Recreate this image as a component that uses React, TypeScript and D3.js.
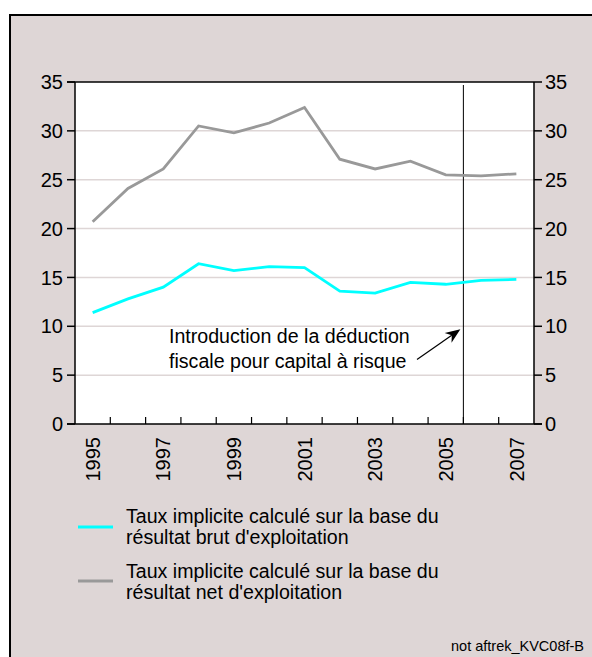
import React from "react";
import * as d3 from "d3";

const years = [1995, 1996, 1997, 1998, 1999, 2000, 2001, 2002, 2003, 2004, 2005, 2006, 2007];
const brut = [11.4, 12.8, 14.0, 16.4, 15.7, 16.1, 16.0, 13.6, 13.4, 14.5, 14.3, 14.7, 14.8];
const net = [20.7, 24.1, 26.1, 30.5, 29.8, 30.8, 32.4, 27.1, 26.1, 26.9, 25.5, 25.4, 25.6];
const yTicks = [0, 5, 10, 15, 20, 25, 30, 35];
const xLabelYears = [1995, 1997, 1999, 2001, 2003, 2005, 2007];
const legendBrut = ["Taux implicite calculé sur la base du", "résultat brut d'exploitation"];
const legendNet = ["Taux implicite calculé sur la base du", "résultat net d'exploitation"];
const annotation = ["Introduction de la déduction", "fiscale pour capital à risque"];
const markerYear = 2006;
const footer = "not aftrek_KVC08f-B";

const W = 592;
const H = 657;
const BG = "#ded6d6";
const FONT = "'Liberation Sans', Arial, Helvetica, sans-serif";

export default function App() {
  const left = 75, right = 534, top = 82, bottom = 424;
  const x = d3.scaleBand<number>().domain(years).range([left, right]).paddingInner(0).paddingOuter(0);
  const y = d3.scaleLinear().domain([0, 35]).range([bottom, top]);
  const cx = (yr: number) => (x(yr) as number) + x.bandwidth() / 2;
  const line = d3
    .line<number>()
    .x((_, i) => cx(years[i]))
    .y((d) => y(d));

  const vx = x(markerYear) as number;
  // arrow
  const ax0 = 417, ay0 = y(6.6);
  const ax1 = vx - 3, ay1 = y(9.7);
  const ang = Math.atan2(ay1 - ay0, ax1 - ax0);
  const hl = 15, hw = 6;
  const bx = ax1 - hl * Math.cos(ang), by = ay1 - hl * Math.sin(ang);
  const nx = ax1 - hl * 0.7 * Math.cos(ang), ny = ay1 - hl * 0.7 * Math.sin(ang);
  const px = -Math.sin(ang), py = Math.cos(ang);
  const head = `M${ax1},${ay1} L${bx + px * hw},${by + py * hw} L${nx},${ny} L${bx - px * hw},${by - py * hw} Z`;

  const fs = 20;
  const fsText = 19.6;

  return (
    <svg width={W} height={H} style={{ position: "absolute", left: 0, top: 0 }} fontFamily={FONT}>
      <rect x={0} y={0} width={W} height={H} fill="#fff" />
      <rect x={10} y={15} width={W + 20} height={H + 20} fill={BG} stroke="#000" strokeWidth={2} />
      <rect x={left} y={top} width={right - left} height={bottom - top} fill="#fff" />
      {yTicks.filter((t) => t > 0 && t < 35).map((t) => (
        <line key={"g" + t} x1={left} x2={right} y1={y(t)} y2={y(t)} stroke={BG} strokeWidth={1.5} />
      ))}
      {/* vertical marker */}
      <line x1={vx} x2={vx} y1={top + 3} y2={bottom} stroke="#000" strokeWidth={1} />
      {/* series */}
      <path d={line(net) || ""} fill="none" stroke="#999999" strokeWidth={2.8} />
      <path d={line(brut) || ""} fill="none" stroke="#00ffff" strokeWidth={2.8} />
      {/* frame lines */}
      <line x1={left - 8} x2={right} y1={top} y2={top} stroke="#000" strokeWidth={1.5} />
      <line x1={left} x2={left} y1={top} y2={bottom} stroke="#000" strokeWidth={1.5} />
      <line x1={right} x2={right} y1={top} y2={bottom} stroke="#000" strokeWidth={1.5} />
      <line x1={left - 8} x2={right + 8} y1={bottom} y2={bottom} stroke="#000" strokeWidth={1.5} />
      {yTicks.map((t) => (
        <g key={"t" + t}>
          <line x1={left - 8} x2={left} y1={y(t)} y2={y(t)} stroke="#000" strokeWidth={1.5} />
          <line x1={right} x2={right + 8} y1={y(t)} y2={y(t)} stroke="#000" strokeWidth={1.5} />
          <text x={left - 12} y={y(t)} dy="0.36em" textAnchor="end" fontSize={fs} fill="#000">{t}</text>
          <text x={right + 11} y={y(t)} dy="0.36em" textAnchor="start" fontSize={fs} fill="#000">{t}</text>
        </g>
      ))}
      {years.slice(1).map((yr) => (
        <line key={"x" + yr} x1={x(yr) as number} x2={x(yr) as number} y1={bottom - 7} y2={bottom} stroke="#000" strokeWidth={1.2} />
      ))}
      {xLabelYears.map((yr) => (
        <text key={"l" + yr} transform={`translate(${cx(yr)},${bottom + 13}) rotate(-90)`} dy="0.36em" textAnchor="end" fontSize={fs} fill="#000">{yr}</text>
      ))}
      {/* annotation */}
      {annotation.map((s, i) => (
        <text key={"a" + i} x={169} y={343 + i * 25} fontSize={fsText} fill="#000">{s}</text>
      ))}
      <line x1={ax0} y1={ay0} x2={nx} y2={ny} stroke="#000" strokeWidth={1.2} />
      <path d={head} fill="#000" />
      {/* legend */}
      <line x1={78} x2={113} y1={527} y2={527} stroke="#00ffff" strokeWidth={3} />
      {legendBrut.map((s, i) => (
        <text key={"lb" + i} x={126} y={523 + i * 21} fontSize={fsText} fill="#000">{s}</text>
      ))}
      <line x1={78} x2={113} y1={581} y2={581} stroke="#999999" strokeWidth={3} />
      {legendNet.map((s, i) => (
        <text key={"ln" + i} x={126} y={578 + i * 21} fontSize={fsText} fill="#000">{s}</text>
      ))}
      <text x={584} y={651} textAnchor="end" fontSize={14.5} fill="#000">{footer}</text>
    </svg>
  );
}
